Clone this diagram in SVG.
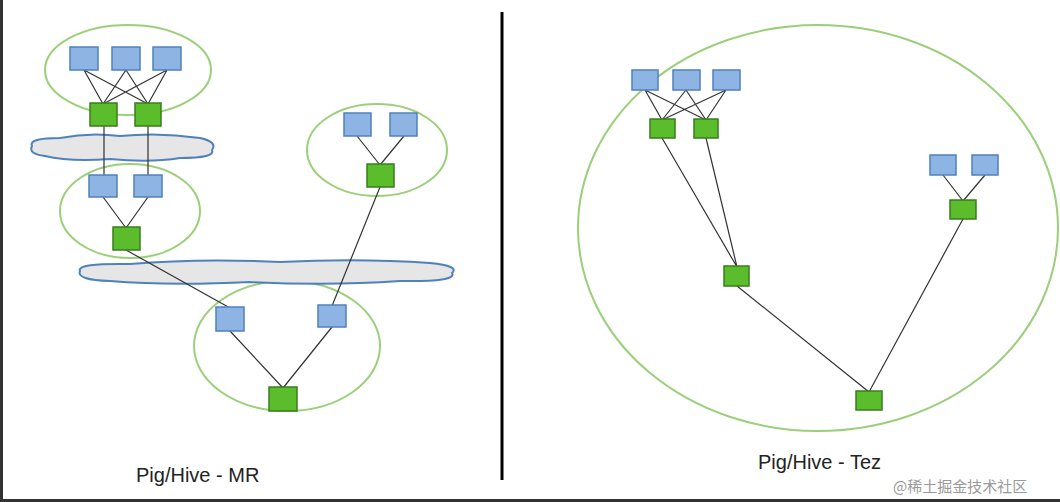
<svg xmlns="http://www.w3.org/2000/svg" width="1060" height="502" viewBox="0 0 1060 502">
<style>
.b{fill:#8db4e2;stroke:#4f81bd;stroke-width:1.5}
.g{fill:#5bbd2b;stroke:#3a7d1c;stroke-width:1.5}
.e{fill:none;stroke:#9bcf7a;stroke-width:2}
.c{fill:#e6e6e6;stroke:#4f81bd;stroke-width:2}
.l{stroke:#333;stroke-width:1.2;fill:none}
text{font-family:"Liberation Sans",Arial,sans-serif;fill:#222}
</style>
<rect width="1060" height="502" fill="#fff"/>
<rect x="0" y="0" width="3" height="502" fill="#333"/>
<rect x="0" y="499" width="1060" height="3" fill="#333"/>
<line x1="502" y1="12" x2="502" y2="480" stroke="#000" stroke-width="3"/>
<g id="ellipses">
<ellipse class="e" cx="128" cy="70" rx="83" ry="45"/>
<ellipse class="e" cx="130" cy="211" rx="70" ry="47"/>
<ellipse class="e" cx="377" cy="150" rx="70" ry="46"/>
<ellipse class="e" cx="287" cy="346" rx="93" ry="65"/>
<ellipse class="e" cx="818" cy="228" rx="240" ry="203"/>
</g>
<g id="clouds">
<path class="c" d="M32,146 Q28,138 60,138 Q90,132 120,136 Q160,132 200,138 Q218,142 212,150 Q216,158 180,158 Q150,163 110,159 Q70,162 45,156 Q28,154 32,146 Z"/>
<path class="c" d="M80,271 Q76,263 130,264 Q200,258 280,262 Q360,258 430,263 Q460,266 452,273 Q458,282 400,281 Q330,286 250,282 Q170,286 110,281 Q76,280 80,271 Z"/>
</g>
<g id="connectors">
<path class="l" d="M84,70 L103,104 M84,70 L148,104 M126,70 L103,104 M126,70 L148,104 M167,70 L103,104 M167,70 L148,104 M104,126 L104,176 M148,126 L148,176 M103,197 L126,228 M148,197 L126,228 M126,250 L230,308 M357,136 L380,165 M404,136 L380,165 M380,187 L332,306 M230,331 L283,388 M332,327 L283,388"/>
<path class="l" d="M645,90 L662,120 M645,90 L706,120 M686,90 L662,120 M686,90 L706,120 M726,90 L662,120 M726,90 L706,120 M662,138 L737,267 M706,138 L737,267 M943,175 L963,201 M985,175 L963,201 M963,219 L869,392 M737,286 L869,392"/>
</g>
<g id="nodes">
<rect class="b" x="70" y="47" width="28" height="23"/>
<rect class="b" x="112" y="47" width="28" height="23"/>
<rect class="b" x="153" y="47" width="28" height="23"/>
<rect class="g" x="90" y="103" width="27" height="23"/>
<rect class="g" x="135" y="103" width="26" height="23"/>
<rect class="b" x="89" y="175" width="28" height="22"/>
<rect class="b" x="134" y="175" width="28" height="22"/>
<rect class="g" x="113" y="227" width="27" height="23"/>
<rect class="b" x="344" y="113" width="27" height="23"/>
<rect class="b" x="390" y="113" width="27" height="23"/>
<rect class="g" x="367" y="164" width="27" height="23"/>
<rect class="b" x="216" y="307" width="28" height="24"/>
<rect class="b" x="318" y="305" width="28" height="22"/>
<rect class="g" x="269" y="387" width="28" height="24"/>
<rect class="b" x="632" y="70" width="26" height="20"/>
<rect class="b" x="673" y="70" width="27" height="20"/>
<rect class="b" x="713" y="70" width="27" height="20"/>
<rect class="g" x="650" y="119" width="25" height="19"/>
<rect class="g" x="694" y="119" width="24" height="19"/>
<rect class="b" x="930" y="155" width="26" height="20"/>
<rect class="b" x="972" y="155" width="26" height="20"/>
<rect class="g" x="950" y="200" width="26" height="19"/>
<rect class="g" x="724" y="266" width="25" height="20"/>
<rect class="g" x="856" y="391" width="26" height="19"/>
</g>
<text x="136" y="482" font-size="20">Pig/Hive - MR</text>
<text x="758" y="469" font-size="20">Pig/Hive - Tez</text>
<text x="893" y="492" font-size="15" style="fill:#999;font-family:'Noto Sans CJK SC',sans-serif">@稀土掘金技术社区</text>
</svg>
